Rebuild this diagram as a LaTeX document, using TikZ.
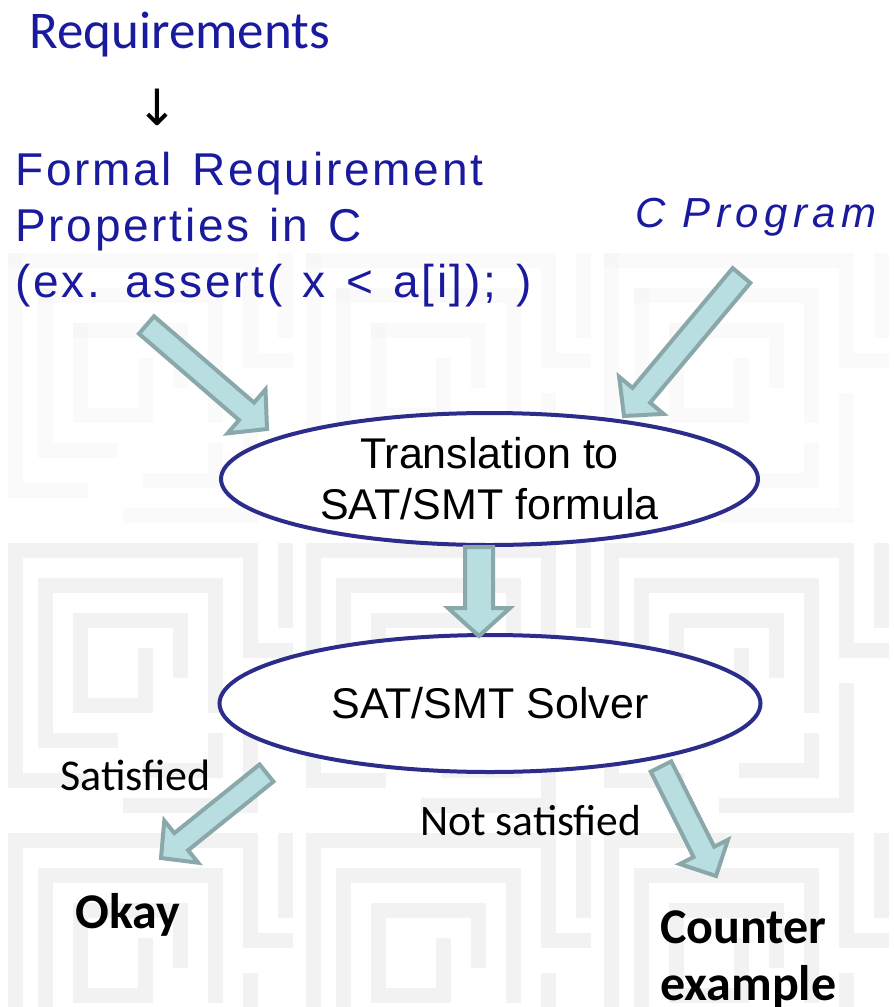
\documentclass[tikz,border=0pt]{standalone}
\usepackage{fontspec}
\usetikzlibrary{calc,shapes.geometric}

\newfontfamily\calibri{Carlito}
\newfontfamily\arial{Liberation Sans}
\newfontfamily\widesans[LetterSpace=6,WordSpace=1.3]{Liberation Sans}
\newfontfamily\widesansit[LetterSpace=13]{Liberation Sans Italic}
\newfontfamily\arrowfont{DejaVu Sans}

\definecolor{reqblue}{RGB}{26,26,158}
\definecolor{ovalline}{RGB}{44,44,138}
\definecolor{arrowfill}{RGB}{184,222,225}
\definecolor{arrowline}{RGB}{138,168,170}
\definecolor{mazegray}{RGB}{242,242,242}

\tikzset{
  oval/.style={ellipse, draw=ovalline, line width=4pt, fill=white,
    inner sep=0pt, align=center, font=\arial\fontsize{43}{51}\selectfont},
  flowarrow/.style={draw=arrowline, fill=arrowfill, line width=4pt, line join=miter},
  bluetext/.style={text=reqblue, inner sep=0pt, anchor=base west},
  blacktext/.style={text=black, inner sep=0pt, anchor=base west},
  mazeline/.style={draw=mazegray, line width=15pt, line cap=rect, line join=miter},
  mazetile/.pic={
    \draw[mazeline] (15,20) -- (250,20) -- (250,120) -- (285,120);
    \draw[mazeline] (15,20) -- (15,250) -- (80,250);
    \draw[mazeline] (45,55) -- (215,55) -- (215,175);
    \draw[mazeline] (45,55) -- (45,210) -- (110,210);
    \draw[mazeline] (80,90) -- (180,90) -- (180,140);
    \draw[mazeline] (80,90) -- (80,175) -- (145,175) -- (145,125);
    \draw[mazeline] (250,160) -- (250,275) -- (130,275);
    \draw[mazeline] (215,210) -- (215,240) -- (150,240);
    \draw[mazeline] (285,20) -- (285,90);
  }
}

% block arrow: tail, tip, shaft half width, head half width, head length
\newcommand\blockarrow[5]{%
  \coordinate (ba-h) at ($(#2)!#5!(#1)$);
  \draw[flowarrow]
    ($(#1)!#3!90:(#2)$) -- ($(ba-h)!#3!90:(#2)$) -- ($(ba-h)!#4!90:(#2)$)
    -- (#2)
    -- ($(ba-h)!#4!-90:(#2)$) -- ($(ba-h)!#3!-90:(#2)$) -- ($(#1)!#3!-90:(#2)$)
    -- cycle;
}

\begin{document}
\begin{tikzpicture}[x=1pt, y=-1pt]
  \useasboundingbox (0,0) rectangle (894,1007);
  \fill[white] (0,0) rectangle (894,1007);

  % faint labyrinth background
  \begin{scope}
    \clip (0,0) rectangle (894,1007);
    \foreach \tx in {0,298,596} {
      \pic[opacity=0.35] at (\tx,240) {mazetile};
      \pic at (\tx,530) {mazetile};
      \pic at (\tx,820) {mazetile};
    }
  \end{scope}

  % texts
  \node[bluetext, font=\calibri\fontsize{53}{63}\selectfont] (req) at (29,48) {Requirements};
  \node[inner sep=0pt, font=\arrowfont\fontsize{50}{60}\selectfont] (down) at (157,107) {↓};
  \node[bluetext, font=\widesans\fontsize{46}{57}\selectfont] (formal1) at (15,185) {Formal Requirement};
  \node[bluetext, font=\widesans\fontsize{46}{57}\selectfont] (formal2) at (15,241.5) {Properties in C};
  \node[bluetext, font=\widesans\fontsize{46}{57}\selectfont] (formal3) at (15,297) {(ex. assert( x < a[i]); )};
  \node[bluetext, font=\widesansit\fontsize{42}{50}\selectfont] (prog) at (635,227) {C Program};

  % process ovals
  \node[oval, minimum width=537pt, minimum height=132pt] (trans) at (489.5,479) {Translation to\\SAT/SMT formula};
  \node[oval, minimum width=541pt, minimum height=137pt] (solver) at (490,703.5) {SAT/SMT Solver};

  % outcome labels
  \node[blacktext, font=\calibri\fontsize{44}{52}\selectfont] (sat) at (60,790) {Satisfied};
  \node[blacktext, font=\calibri\fontsize{43.5}{52}\selectfont] (unsat) at (420,835) {Not satisfied};
  \node[blacktext, font=\calibri\bfseries\fontsize{50}{58}\selectfont] (okay) at (75,928) {Okay};
  \node[blacktext, font=\calibri\bfseries\fontsize{50}{58}\selectfont] (cex1) at (660,943) {Counter};
  \node[blacktext, font=\calibri\bfseries\fontsize{50}{58}\selectfont] (cex2) at (660,1000) {example};

  % arrow end points
  \coordinate (a1s) at (146.5,325);  \coordinate (a1e) at (267,429);
  \coordinate (a2s) at (741.5,275.5); \coordinate (a2e) at (624,416);
  \coordinate (a3s) at (479,547);    \coordinate (a3e) at (479,636);
  \coordinate (a4s) at (266.5,773);  \coordinate (a4e) at (161,858);
  \coordinate (a5s) at (661,766.5);  \coordinate (a5e) at (716,876);

  \blockarrow{a1s}{a1e}{11.5pt}{29pt}{27pt}
  \blockarrow{a2s}{a2e}{11.5pt}{29pt}{27pt}
  \blockarrow{a3s}{a3e}{14pt}{31pt}{28pt}
  \blockarrow{a4s}{a4e}{11pt}{27pt}{26pt}
  \blockarrow{a5s}{a5e}{11.5pt}{27pt}{27pt}
\end{tikzpicture}
\end{document}
